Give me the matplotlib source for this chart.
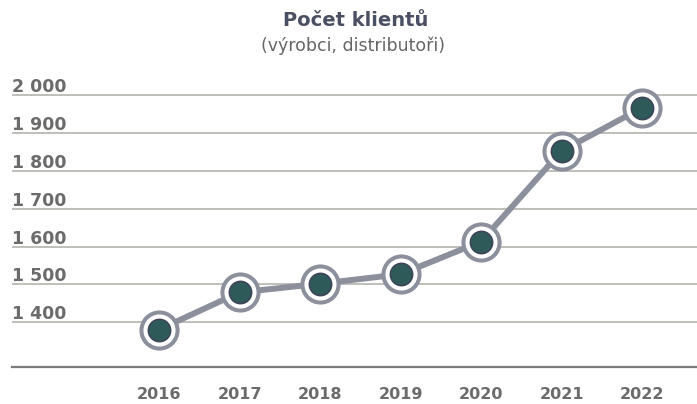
import matplotlib
matplotlib.use("Agg")
import matplotlib.pyplot as plt
import matplotlib.transforms as mtransforms

# === DATA ===
years = [2016, 2017, 2018, 2019, 2020, 2021, 2022]
clients = [1381, 1479, 1502, 1527, 1613, 1852, 1966]
ytick_values = [1400, 1500, 1600, 1700, 1800, 1900, 2000]
ytick_labels = ["1 400", "1 500", "1 600", "1 700", "1 800", "1 900", "2 000"]
title = "Počet klientů"
subtitle = "(výrobci, distributoři)"

# === STYLE ===
line_color = "#8c909d"
grid_color = "#b4b4ae"
base_color = "#7a7a7a"
label_color = "#6b6b6b"
dot_color = "#2f5a5a"
dot_edge = "#3e4558"
font = "DejaVu Sans"

W, H = 697, 404
fig = plt.figure(figsize=(W / 100, H / 100), dpi=100)
fig.patch.set_facecolor("white")

left_px, bottom_px, top_px = 12, 367, 76
ax = fig.add_axes([left_px / W, (H - bottom_px) / H, 1 - left_px / W, (bottom_px - top_px) / H])
ax.set_xlim(2014.174, 2022.683)
ax.set_ylim(1282.3, 2050)

for s in ["top", "right", "left"]:
    ax.spines[s].set_visible(False)
ax.spines["bottom"].set_color(base_color)
ax.spines["bottom"].set_linewidth(1.6)

ax.set_yticks(ytick_values)
ax.set_yticklabels([])
ax.set_xticks([])
ax.tick_params(axis="y", length=0)
ax.grid(axis="y", color=grid_color, linewidth=1.2)
ax.set_axisbelow(True)

# y labels sit just above their gridline
trans = mtransforms.blended_transform_factory(ax.transAxes, ax.transData)
offset = mtransforms.ScaledTranslation(0, 3 / 100, fig.dpi_scale_trans)
for v, lab in zip(ytick_values, ytick_labels):
    ax.text(0, v, lab, transform=trans + offset, ha="left", va="baseline",
            fontsize=12.5, fontweight="bold", color=label_color, family=font)

# x labels below the base line
for yr in years:
    ax.annotate(str(yr), xy=(yr, 0), xycoords=("data", "axes fraction"),
                xytext=(0, -20), textcoords="offset points", ha="center", va="center",
                fontsize=11.5, fontweight="bold", color=label_color, family=font,
                annotation_clip=False)

# line + ring markers
ax.plot(years, clients, color=line_color, linewidth=4.3, solid_capstyle="round",
        zorder=3, clip_on=False)
ax.plot(years, clients, linestyle="none", marker="o", markersize=26,
        markerfacecolor="white", markeredgecolor=line_color, markeredgewidth=2.9,
        zorder=4, clip_on=False)
ax.plot(years, clients, linestyle="none", marker="o", markersize=16,
        markerfacecolor=dot_color, markeredgecolor=dot_edge, markeredgewidth=1.2,
        zorder=5, clip_on=False)

fig.text(356 / W, 1 - 20 / H, title, ha="center", va="center", fontsize=14,
         fontweight="bold", color="#4b4f63", family=font)
fig.text(353 / W, 1 - 46 / H, subtitle, ha="center", va="center", fontsize=12.5,
         color="#666666", family=font)

plt.savefig("out.png", dpi=100)
plt.close()
